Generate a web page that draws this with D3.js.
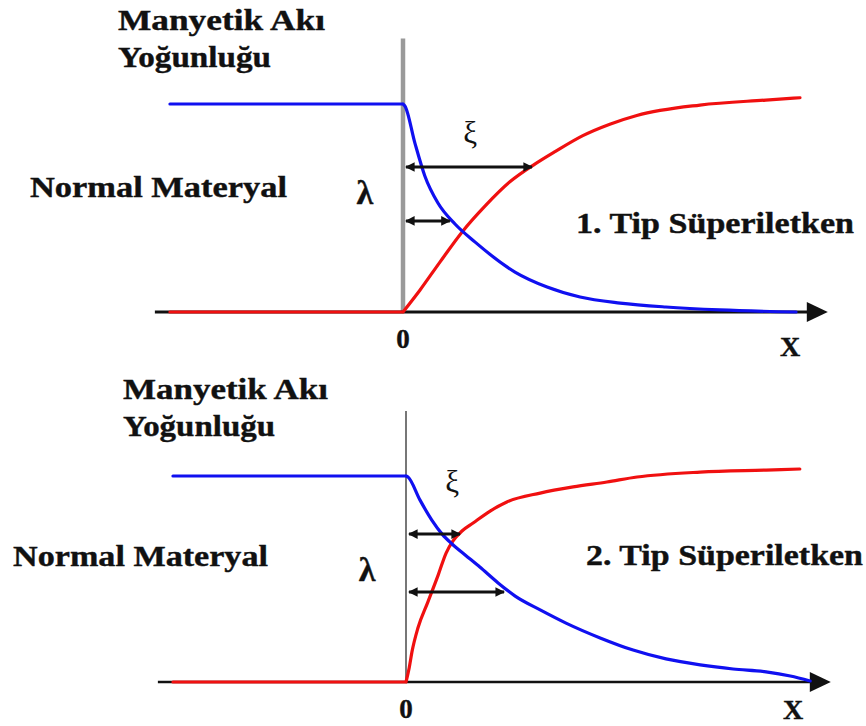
<!DOCTYPE html>
<html>
<head>
<meta charset="utf-8">
<script src="https://cdn.jsdelivr.net/npm/d3@7"></script>
<style>
  html, body { margin: 0; padding: 0; background: #fff; }
  svg { display: block; }
</style>
</head>
<body>
<svg id="chart" width="866" height="726"></svg>
<script>
// ---- Data (x: depth from the interface, y: normalized value) ----
// Type I superconductor: magnetic flux density (blue) and order parameter (red)
const fluxType1 = [[-0.587, 1], [0, 1], [0.005, 0.99], [0.03, 0.812], [0.055, 0.654], [0.088, 0.524],
  [0.131, 0.423], [0.181, 0.337], [0.282, 0.192], [0.363, 0.12], [0.446, 0.072], [0.547, 0.043],
  [0.662, 0.024], [0.798, 0.01], [0.99, 0.0]];
const orderType1 = [[-0.587, 0], [0, 0], [0.043, 0.106], [0.093, 0.24], [0.149, 0.385], [0.207, 0.51],
  [0.27, 0.627], [0.333, 0.712], [0.383, 0.771], [0.453, 0.848], [0.521, 0.903], [0.589, 0.945],
  [0.748, 0.995], [0.914, 1.019], [1.0, 1.03]];
// Type II superconductor
const fluxType2 = [[-0.587, 1], [0, 1], [0.005, 0.995], [0.035, 0.884], [0.065, 0.786], [0.091, 0.718],
  [0.116, 0.67], [0.149, 0.617], [0.186, 0.558], [0.232, 0.481], [0.275, 0.417], [0.338, 0.35],
  [0.403, 0.286], [0.489, 0.214], [0.572, 0.155], [0.655, 0.112], [0.741, 0.083], [0.824, 0.063],
  [0.907, 0.049], [0.968, 0.029], [1.018, 0.005]];
const orderType2 = [[-0.587, 0], [0, 0], [0.008, 0.068], [0.015, 0.146], [0.03, 0.262], [0.055, 0.388],
  [0.081, 0.519], [0.101, 0.626], [0.118, 0.684], [0.141, 0.733], [0.169, 0.772], [0.212, 0.83],
  [0.254, 0.874], [0.338, 0.917], [0.421, 0.947], [0.506, 0.971], [0.582, 0.995], [0.741, 1.019],
  [0.907, 1.029], [0.992, 1.034]];
// Length-scale arrows: [y level, x end]
const xiArrows = [[0.697, 0.325], [0.718, 0.136]];
const lambdaArrows = [[0.438, 0.118], [0.437, 0.247]];
const panelTitles = ["1. Tip Süperiletken", "2. Tip Süperiletken"];
const yAxisTitle = ["Manyetik Akı", "Yoğunluğu"];
const leftTitle = "Normal Materyal";
const xTickLabels = ["0"];
const xAxisTitle = "X";

// ---- Layout ----
const SERIF = "'Liberation Serif', 'Times New Roman', serif";
const panels = [
  { flux: fluxType1, order: orderType1, xi: xiArrows[0], lam: lambdaArrows[0], title: panelTitles[0],
    xr: [403, 800], yr: [312, 104], axisW: 4.5, axisColor: "#9a9a9a", hAxisW: 3,
    xiPos: [0.169, 0.861], lamPos: [-0.096, 0.572],
    titlePos: [576, 233, 278], leftPos: [30, 197, 257], ytPos: [118, 30, 207, 67, 153], zeroY: 348, xY: 356 },
  { flux: fluxType2, order: orderType2, xi: xiArrows[1], lam: lambdaArrows[1], title: panelTitles[1],
    xr: [406, 803], yr: [682, 476], axisW: 2, axisColor: "#777", hAxisW: 2.5,
    xiPos: [0.116, 0.971], lamPos: [-0.098, 0.544],
    titlePos: [586, 565, 277], leftPos: [13, 566, 255], ytPos: [123, 399, 205, 436, 152], zeroY: 718, xY: 719 }
];

const svg = d3.select("#chart");
svg.append("defs").append("marker")
  .attr("id", "dbl").attr("viewBox", "0 0 10 10").attr("refX", 9).attr("refY", 5)
  .attr("markerWidth", 3.2).attr("markerHeight", 3.2).attr("markerUnits", "strokeWidth")
  .attr("orient", "auto-start-reverse")
  .append("path").attr("d", "M0,0 L10,5 L0,10 Z").attr("fill", "#111");

const boldText = (g, tx, ty, size, s) => g.append("text")
  .attr("x", tx).attr("y", ty)
  .style("font-family", SERIF).style("font-weight", "bold").style("font-size", size + "px")
  .style("fill", "#111").style("stroke", "#111").style("stroke-width", 0.4)
  .text(s);

panels.forEach(p => {
  const x = d3.scaleLinear().domain([0, 1]).range(p.xr);
  const y = d3.scaleLinear().domain([0, 1]).range(p.yr);
  const g = svg.append("g");

  // vertical axis (interface)
  g.append("line")
    .attr("x1", x(0)).attr("x2", x(0)).attr("y1", y(0) + 1).attr("y2", y(1.315))
    .attr("stroke", p.axisColor).attr("stroke-width", p.axisW);

  // horizontal axis with arrow head
  const xEnd = 1.07;
  g.append("line")
    .attr("x1", x(-0.625)).attr("x2", x(xEnd) - 16).attr("y1", y(0)).attr("y2", y(0))
    .attr("stroke", "#111").attr("stroke-width", p.hAxisW);
  g.append("path")
    .attr("d", `M${x(xEnd)},${y(0)} L${x(xEnd) - 21},${y(0) - 10} L${x(xEnd) - 21},${y(0) + 10} Z`)
    .attr("fill", "#111");

  // flat part in the normal material, smooth profile inside the superconductor
  const flat = d3.line().x(d => x(d[0])).y(d => y(d[1]));
  const smooth = d3.line().x(d => x(d[0])).y(d => y(d[1])).curve(d3.curveMonotoneX);
  const profile = pts => flat(pts.slice(0, 2)) + smooth(pts.slice(1));

  [[p.order, "#f01010"], [p.flux, "#1010f0"]].forEach(([pts, col]) => {
    g.append("path").attr("d", profile(pts))
      .attr("fill", "none").attr("stroke", col).attr("stroke-width", 3.2)
      .attr("stroke-linejoin", "round").attr("stroke-linecap", "round");
  });

  // length-scale arrows
  [p.xi, p.lam].forEach(a => {
    g.append("line")
      .attr("x1", x(0) + 3).attr("x2", x(a[1])).attr("y1", y(a[0])).attr("y2", y(a[0]))
      .attr("stroke", "#111").attr("stroke-width", 3)
      .attr("marker-start", "url(#dbl)").attr("marker-end", "url(#dbl)");
  });

  // symbols
  g.append("text").attr("x", x(p.xiPos[0])).attr("y", y(p.xiPos[1]) + 10)
    .attr("text-anchor", "middle")
    .style("font-family", SERIF).style("font-size", "31px").style("fill", "#111")
    .text("ξ");
  boldText(g, x(p.lamPos[0]), y(p.lamPos[1]) + 11, 34, "λ").attr("text-anchor", "middle");

  // tick label and axis title
  boldText(g, x(0), p.zeroY, 27, xTickLabels[0]).attr("text-anchor", "middle");
  boldText(g, x(0.975), p.xY, 28, xAxisTitle).attr("text-anchor", "middle");

  // titles (wide bold serif)
  const stretched = (tx, ty, w, s) => boldText(g, tx, ty, 30, s)
    .attr("textLength", w).attr("lengthAdjust", "spacingAndGlyphs");
  stretched(p.ytPos[0], p.ytPos[1], p.ytPos[2], yAxisTitle[0]);
  stretched(p.ytPos[0], p.ytPos[3], p.ytPos[4], yAxisTitle[1]);
  stretched(p.leftPos[0], p.leftPos[1], p.leftPos[2], leftTitle);
  stretched(p.titlePos[0], p.titlePos[1], p.titlePos[2], p.title);
});
</script>
</body>
</html>
